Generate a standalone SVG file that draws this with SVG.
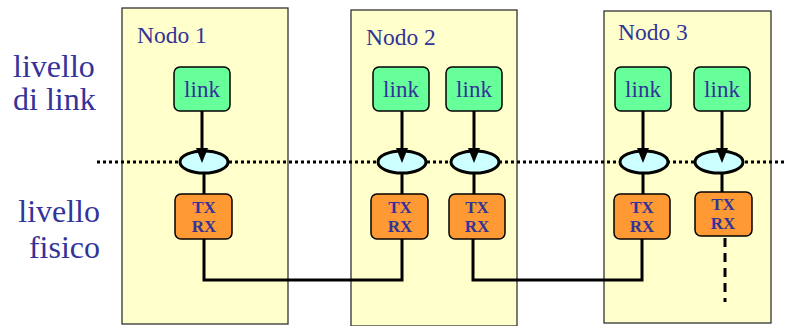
<svg xmlns="http://www.w3.org/2000/svg" width="786" height="326" viewBox="0 0 786 326">
<style>
.node{fill:#FFFFCC;stroke:#333333;stroke-width:1.3}
.link{fill:#66FF99;stroke:#000;stroke-width:1.5}
.txrx{fill:#FF9933;stroke:#000;stroke-width:1.5}
.ell{fill:#CCFFFF;stroke:#000;stroke-width:3}
.wire{fill:none;stroke:#000;stroke-width:3}
.t{font-family:"Liberation Serif","Times New Roman",serif;fill:#333399}
.lt{font-size:23px;text-anchor:middle}
.tr{font-size:17px;font-weight:bold;text-anchor:middle}
.nt{font-size:23.5px}
.lv{font-size:32px}
</style>
<g id="labels">
<text class="t lv" x="13" y="77">livello</text>
<text class="t lv" x="13" y="110">di link</text>
<text class="t lv" x="100" y="222" text-anchor="end">livello</text>
<text class="t lv" x="100" y="258" text-anchor="end">fisico</text>
</g>
<g id="nodo1">
<rect class="node" x="122" y="8" width="166" height="316"/>
<text class="t nt" x="137" y="43">Nodo 1</text>
</g>
<g id="nodo2">
<rect class="node" x="351" y="10" width="166" height="316"/>
<text class="t nt" x="366" y="45">Nodo 2</text>
</g>
<g id="nodo3">
<rect class="node" x="604" y="11" width="167" height="312"/>
<text class="t nt" x="618" y="40">Nodo 3</text>
</g>
<line x1="97" y1="162" x2="786" y2="162" stroke="#000" stroke-width="3" stroke-dasharray="3,3"/>
<g id="connectors">
<path class="wire" d="M204,239 V280 H402 V239"/>
<path class="wire" d="M473,239 V280 H642 V239"/>
<path class="wire" d="M725,238 V302" stroke-dasharray="9,6"/>
<path class="wire" d="M202,111 V150 M204,173 V195"/>
<path class="wire" d="M402,111 V150 M402,173 V195"/>
<path class="wire" d="M474,111 V150 M474,173 V195"/>
<path class="wire" d="M643,111 V150 M643,173 V195"/>
<path class="wire" d="M722,111 V150 M722,173 V193"/>
</g>
<g id="ellipses">
<ellipse class="ell" cx="204" cy="162" rx="24" ry="11"/>
<ellipse class="ell" cx="402" cy="162" rx="24" ry="11"/>
<ellipse class="ell" cx="475" cy="162" rx="24" ry="11"/>
<ellipse class="ell" cx="644" cy="162" rx="24" ry="11"/>
<ellipse class="ell" cx="719" cy="162" rx="24" ry="11"/>
</g>
<g id="arrowheads" fill="#000">
<path d="M196,148 L208,148 L202,163 Z"/>
<path d="M396,148 L408,148 L402,163 Z"/>
<path d="M468,148 L480,148 L474,163 Z"/>
<path d="M637,148 L649,148 L643,163 Z"/>
<path d="M716,148 L728,148 L722,163 Z"/>
</g>
<g id="link1"><rect class="link" x="174" y="67" width="56" height="44" rx="6"/><text class="t lt" x="202" y="97">link</text></g>
<g id="link2a"><rect class="link" x="373" y="67" width="56" height="44" rx="6"/><text class="t lt" x="401" y="97">link</text></g>
<g id="link2b"><rect class="link" x="446" y="67" width="56" height="44" rx="6"/><text class="t lt" x="474" y="97">link</text></g>
<g id="link3a"><rect class="link" x="615" y="67" width="56" height="44" rx="6"/><text class="t lt" x="643" y="97">link</text></g>
<g id="link3b"><rect class="link" x="694" y="67" width="56" height="44" rx="6"/><text class="t lt" x="722" y="97">link</text></g>
<g id="txrx1"><rect class="txrx" x="175" y="194" width="57" height="45" rx="6"/><text class="t tr" x="204" y="213">TX</text><text class="t tr" x="204" y="232">RX</text></g>
<g id="txrx2a"><rect class="txrx" x="371" y="194" width="57" height="45" rx="6"/><text class="t tr" x="400" y="213">TX</text><text class="t tr" x="400" y="232">RX</text></g>
<g id="txrx2b"><rect class="txrx" x="449" y="194" width="56" height="45" rx="6"/><text class="t tr" x="477" y="213">TX</text><text class="t tr" x="477" y="232">RX</text></g>
<g id="txrx3a"><rect class="txrx" x="614" y="194" width="56" height="45" rx="6"/><text class="t tr" x="642" y="213">TX</text><text class="t tr" x="642" y="232">RX</text></g>
<g id="txrx3b"><rect class="txrx" x="695" y="192" width="57" height="44" rx="6"/><text class="t tr" x="723" y="210">TX</text><text class="t tr" x="723" y="229">RX</text></g>
</svg>
